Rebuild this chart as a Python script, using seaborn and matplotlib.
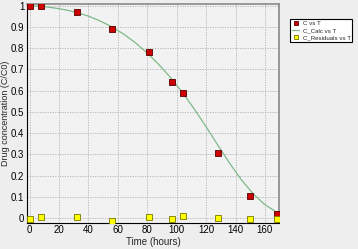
import matplotlib
matplotlib.use("Agg")
import matplotlib.pyplot as plt
import seaborn as sns
import pandas as pd

# Measured data
t_obs = [0, 8, 32, 56, 81, 97, 104, 128, 150, 168]
c_obs = [1.0, 1.0, 0.97, 0.89, 0.78, 0.642, 0.588, 0.307, 0.104, 0.018]
resid = [-0.003, 0.003, 0.003, -0.014, 0.003, -0.006, 0.009, -0.002, -0.004, -0.004]

# Calculated curve
t_calc = [0, 8, 16, 24, 32, 40, 48, 56, 64, 72, 80, 88, 96, 104, 112, 120, 128, 136, 144, 152, 160, 168]
c_calc = [1.0, 0.997, 0.99, 0.981, 0.968, 0.951, 0.928, 0.9, 0.866, 0.825, 0.777, 0.722, 0.66, 0.59, 0.513, 0.43, 0.343, 0.258, 0.18, 0.114, 0.063, 0.027]

x_ticks = [0, 20, 40, 60, 80, 100, 120, 140, 160]
y_ticks = [0, 0.1, 0.2, 0.3, 0.4, 0.5, 0.6, 0.7, 0.8, 0.9, 1]
y_ticklabels = ["0", "0.1", "0.2", "0.3", "0.4", "0.5", "0.6", "0.7", "0.8", "0.9", "1"]

df_obs = pd.DataFrame({"T": t_obs, "C": c_obs, "R": resid})
df_calc = pd.DataFrame({"T": t_calc, "C": c_calc})

sns.set_style("white")
plt.rcParams["font.family"] = ["Liberation Sans", "DejaVu Sans"]

fig = plt.figure(figsize=(3.58, 2.49), dpi=100, facecolor="#eeeeee")
ax = fig.add_axes([0.0754, 0.1056, 0.7036, 0.8784])
ax.set_facecolor("#f2f2f2")

sns.lineplot(data=df_calc, x="T", y="C", ax=ax, color="#7fb98a", linewidth=0.9,
             label="C_Calc vs T", zorder=2)
sns.scatterplot(data=df_obs, x="T", y="C", ax=ax, marker="s", s=14, color="#cc0000",
                edgecolor="#550000", linewidth=0.6, label="C vs T", zorder=3)
sns.scatterplot(data=df_obs, x="T", y="R", ax=ax, marker="s", s=13, color="#ffff00",
                edgecolor="#777700", linewidth=0.6, label="C_Residuals vs T", zorder=3)

ax.set_xlim(-1.8, 169.5)
ax.set_ylim(-0.022, 1.008)
ax.set_xticks(x_ticks)
ax.set_xticklabels([str(v) for v in x_ticks])
ax.set_yticks(y_ticks)
ax.set_yticklabels(y_ticklabels)
ax.tick_params(axis="both", labelsize=7, length=0, pad=2, colors="black")
ax.grid(True, linestyle=(0, (1.5, 1.5)), color="#b0b0b0", linewidth=0.6)
for side in ["top", "right"]:
    ax.spines[side].set_color("#888888")
    ax.spines[side].set_linewidth(1.2)
for side in ["left", "bottom"]:
    ax.spines[side].set_color("black")
    ax.spines[side].set_linewidth(0.8)

ax.set_xlabel("Time (hours)", fontsize=7, labelpad=1)
ax.set_ylabel("Drug concentration (C/C0)", fontsize=6.5)
ax.yaxis.set_label_coords(-0.066, 0.5)

handles, labels = ax.get_legend_handles_labels()
order = [labels.index("C vs T"), labels.index("C_Calc vs T"), labels.index("C_Residuals vs T")]
leg = ax.legend([handles[i] for i in order], [labels[i] for i in order],
                loc="upper left", bbox_to_anchor=(290 / 358, 1 - 19 / 249),
                bbox_transform=fig.transFigure, fontsize=4.4, frameon=True,
                fancybox=False, edgecolor="black", framealpha=1, markerscale=0.75,
                borderpad=0.25, labelspacing=0.3, handlelength=1.3, handletextpad=0.5,
                borderaxespad=0)
leg.get_frame().set_linewidth(0.8)

fig.savefig("out.png", dpi=100, facecolor=fig.get_facecolor())
